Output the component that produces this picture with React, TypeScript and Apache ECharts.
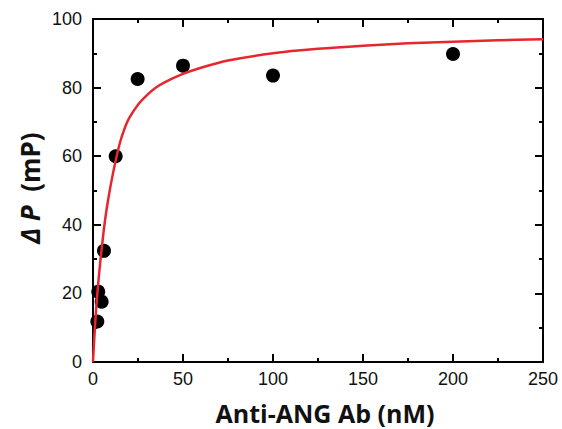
import React, { useEffect, useRef } from "react";
import * as echarts from "echarts";

const pointX = [2.4, 2.9, 4.8, 6.1, 12.6, 24.8, 50, 100, 200];
const pointY = [11.8, 20.5, 17.6, 32.4, 60, 82.5, 86.4, 83.5, 89.8];

const curveX = [0, 0.5, 1, 1.5, 2, 3, 4, 5, 6, 7, 8, 10, 12.5, 15, 17.5, 20, 25, 30, 35, 40, 50, 60, 75, 100, 125, 150, 175, 200, 225, 250];
const curveY = [0, 5, 9.5, 13.5, 17.2, 23.5, 29, 33.8, 38.5, 42.5, 46, 52, 58.5, 64, 68, 71, 75, 77.8, 80, 81.6, 84, 85.8, 87.9, 90, 91.3, 92.2, 92.9, 93.4, 93.8, 94.1];

const xTicks = [0, 50, 100, 150, 200, 250];
const yTicks = [0, 20, 40, 60, 80, 100];

const axisLine = { show: true, onZero: false, lineStyle: { color: "#000", width: 2 } };

export default function App() {
  const ref = useRef<HTMLDivElement>(null);
  useEffect(() => {
    if (!ref.current) return;
    const chart = echarts.init(ref.current, null, { renderer: "svg" });
    const labelStyle = { color: "#111", fontFamily: "Liberation Sans", fontSize: 18 };
    const tick = { show: true, inside: true, length: 8, lineStyle: { color: "#000", width: 2 } };
    const minor = { show: true, splitNumber: 2, length: 4, lineStyle: { color: "#000", width: 2 } };
    const baseX = {
      type: "value" as const,
      min: xTicks[0],
      max: xTicks[xTicks.length - 1],
      interval: 50,
      axisLine,
      splitLine: { show: false },
      axisTick: tick,
      minorTick: minor,
    };
    const baseY = {
      type: "value" as const,
      min: yTicks[0],
      max: yTicks[yTicks.length - 1],
      interval: 20,
      axisLine,
      splitLine: { show: false },
      axisTick: tick,
      minorTick: minor,
    };
    chart.setOption({
      animation: false,
      backgroundColor: "#fff",
      grid: { left: 93, top: 19, right: 19, bottom: 67, containLabel: false },
      xAxis: [
        { ...baseX, position: "bottom", axisLabel: { ...labelStyle, margin: 8 } },
        { ...baseX, position: "top", axisLabel: { show: false } },
      ],
      yAxis: [
        { ...baseY, position: "left", axisLabel: { ...labelStyle, margin: 11 } },
        { ...baseY, position: "right", axisLabel: { show: false } },
      ],
      graphic: [
        {
          type: "text",
          x: 325,
          y: 413,
          style: {
            text: "Anti-ANG Ab (nM)",
            fontFamily: "Open Sans",
            fontWeight: "bold",
            fontSize: 25,
            fill: "#111",
            align: "center",
            verticalAlign: "middle",
          },
        },
        {
          type: "text",
          x: 30,
          y: 188,
          rotation: Math.PI / 2,
          style: {
            text: "{i|Δ P}{n|  (mP)}",
            align: "center",
            verticalAlign: "middle",
            rich: {
              i: { fontFamily: "Open Sans", fontWeight: "bold", fontStyle: "italic", fontSize: 26, fill: "#111" },
              n: { fontFamily: "Open Sans", fontWeight: "bold", fontSize: 26, fill: "#111" },
            },
          },
        },
      ],
      series: [
        {
          type: "scatter",
          data: pointX.map((x, i) => [x, pointY[i]]),
          symbol: "circle",
          symbolSize: 14,
          itemStyle: { color: "#000", opacity: 1 },
          z: 2,
          clip: false,
        },
        {
          type: "line",
          data: curveX.map((x, i) => [x, curveY[i]]),
          showSymbol: false,
          smooth: 0.3,
          lineStyle: { color: "#e8262e", width: 2.5 },
          z: 3,
        },
      ],
    });
    return () => chart.dispose();
  }, []);
  return <div ref={ref} style={{ position: "fixed", left: 0, top: 0, width: 562, height: 429 }} />;
}
